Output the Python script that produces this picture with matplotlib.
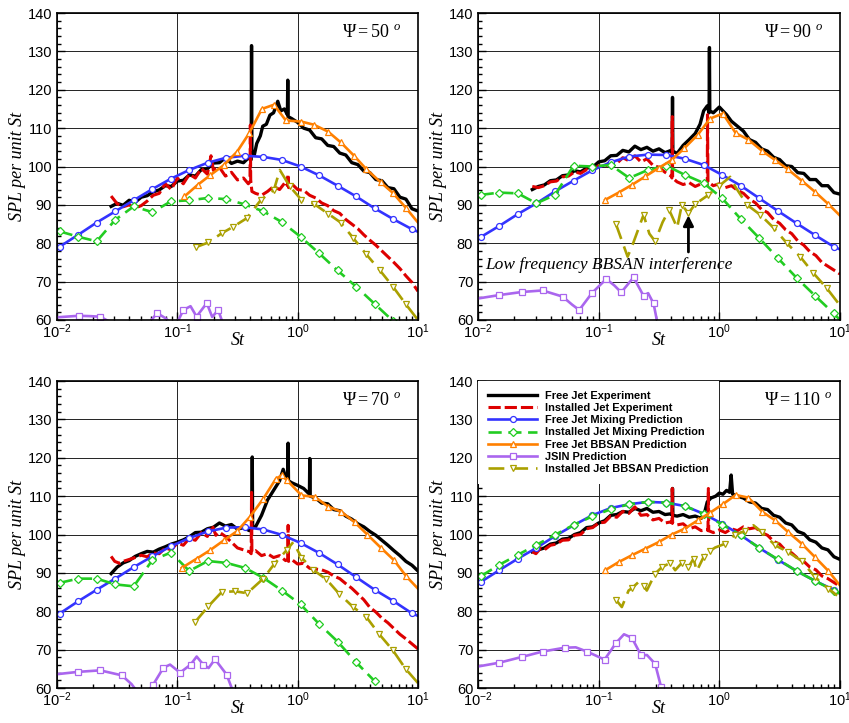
import numpy as np
import matplotlib.pyplot as plt
from matplotlib.ticker import FixedLocator, LogLocator, MultipleLocator, FuncFormatter, NullFormatter

plt.rcParams["font.family"] = "Liberation Sans"
plt.rcParams["mathtext.fontset"] = "custom"
plt.rcParams["mathtext.rm"] = "Liberation Serif"
plt.rcParams["mathtext.it"] = "Liberation Serif:italic"
plt.rcParams["mathtext.sf"] = "Liberation Sans"

# St values are kept as log10(St)
# mixing predictions share one St grid
mix_lst = [-1.978, -1.824, -1.670, -1.516, -1.362, -1.208, -1.054, -0.900, -0.746, -0.592,
           -0.438, -0.284, -0.130, 0.024, 0.178, 0.332, 0.486, 0.640, 0.794, 0.948, 1.0]

free_mix_50 = [79.1, 82.2, 85.4, 88.3, 91.2, 94.1, 96.8, 99.1, 101.0, 102.3, 102.8, 102.5, 101.7, 100.0, 97.7, 95.0, 92.2, 89.1, 86.3, 83.7, 83.0]
inst_mix_50 = [83.1, 81.7, 80.5, 86.1, 89.6, 88.1, 90.9, 91.2, 91.8, 91.5, 90.1, 88.3, 85.5, 81.7, 77.4, 72.9, 68.7, 64.2, 59.7, 55.2, 53.5]
free_mix_90 = [81.6, 84.5, 87.6, 90.4, 93.5, 96.3, 99.0, 101.1, 102.6, 103.1, 103.0, 102.0, 100.4, 97.8, 95.0, 91.7, 88.4, 85.2, 82.1, 79.1, 78.4]
inst_mix_90 = [92.6, 93.2, 93.0, 90.4, 92.6, 100.2, 100.0, 100.4, 97.0, 99.1, 100.2, 97.8, 95.7, 91.7, 86.3, 81.3, 76.1, 71.0, 66.3, 61.7, 60.0]
free_mix_70 = [79.4, 82.6, 85.6, 88.5, 91.5, 94.3, 96.9, 99.1, 100.8, 101.8, 101.9, 101.3, 99.9, 97.8, 95.2, 92.2, 88.9, 85.6, 82.7, 79.5, 78.8]
inst_mix_70 = [87.4, 88.5, 88.5, 87.0, 86.5, 93.3, 95.3, 90.5, 93.1, 92.6, 91.3, 88.7, 85.4, 81.8, 76.7, 72.1, 66.7, 61.8, 57.0, 52.0, 50.0]
free_mix_110 = [87.6, 90.7, 93.7, 96.5, 99.6, 102.4, 105.0, 106.9, 107.9, 108.5, 108.3, 107.4, 105.4, 102.8, 99.8, 96.5, 93.4, 90.5, 87.9, 85.6, 84.6]
inst_mix_110 = [89.1, 92.1, 94.7, 97.3, 99.9, 102.5, 104.7, 106.6, 107.9, 108.5, 108.3, 107.4, 105.4, 102.6, 99.8, 96.5, 93.5, 90.5, 87.9, 85.4, 84.6]

# measured spectra (log10 St, SPL)
free_exp_50 = [(-1.55, 89.6), (-1.50, 90.4), (-1.45, 89.9), (-1.40, 91.2), (-1.35, 90.7), (-1.30, 92.0), (-1.25, 92.4),
               (-1.20, 93.4), (-1.15, 93.9), (-1.10, 95.0), (-1.05, 94.8), (-1.00, 96.2), (-0.95, 96.4), (-0.90, 97.8),
               (-0.85, 97.5), (-0.80, 99.2), (-0.75, 99.4), (-0.70, 100.9), (-0.65, 101.0), (-0.60, 102.3), (-0.55, 100.8),
               (-0.50, 101.4), (-0.45, 101.0), (-0.41, 102.2), (-0.386, 101.8), (-0.383, 131.5), (-0.380, 103.5),
               (-0.36, 103.0), (-0.34, 106.0), (-0.31, 108.0), (-0.29, 110.5), (-0.26, 111.0), (-0.23, 113.4), (-0.20, 114.0),
               (-0.165, 117.0), (-0.14, 114.5), (-0.11, 115.0), (-0.085, 113.5), (-0.082, 122.5), (-0.079, 113.0),
               (-0.05, 112.5), (0.0, 111.5), (0.05, 110.0), (0.10, 109.5), (0.15, 107.5), (0.20, 107.2), (0.25, 105.5),
               (0.30, 105.2), (0.35, 103.5), (0.40, 103.0), (0.45, 101.0), (0.50, 100.5), (0.55, 98.8), (0.60, 98.4),
               (0.65, 96.6), (0.70, 96.3), (0.75, 94.5), (0.80, 94.2), (0.85, 92.0), (0.90, 91.5), (0.95, 89.0), (1.00, 88.4)]
inst_exp_50 = [(-1.55, 92.3), (-1.53, 91.5), (-1.50, 90.3), (-1.45, 89.5), (-1.40, 90.0), (-1.35, 89.2), (-1.30, 89.8),
               (-1.25, 91.0), (-1.20, 92.5), (-1.15, 93.0), (-1.10, 95.5), (-1.05, 94.0), (-1.00, 97.0), (-0.95, 95.5),
               (-0.90, 98.0), (-0.85, 97.0), (-0.80, 99.5), (-0.75, 98.0), (-0.72, 102.8), (-0.70, 99.0), (-0.65, 99.8),
               (-0.60, 97.5), (-0.55, 98.5), (-0.50, 96.5), (-0.45, 97.0), (-0.41, 95.5), (-0.396, 96.0), (-0.393, 110.8),
               (-0.390, 96.5), (-0.38, 93.5), (-0.35, 93.0), (-0.30, 92.5), (-0.25, 93.5), (-0.20, 94.8), (-0.15, 94.0),
               (-0.10, 96.0), (-0.085, 95.0), (-0.08, 98.0), (-0.075, 94.5), (-0.05, 95.5), (0.0, 94.0), (0.05, 93.8),
               (0.10, 92.5), (0.15, 91.8), (0.20, 90.5), (0.25, 89.8), (0.30, 88.5), (0.35, 87.8), (0.40, 86.2), (0.45, 85.0),
               (0.50, 83.8), (0.55, 82.2), (0.60, 80.8), (0.65, 79.5), (0.70, 78.0), (0.75, 76.5), (0.80, 75.0), (0.85, 73.4),
               (0.90, 71.5), (0.95, 69.8), (1.00, 67.5)]

free_exp_90 = [(-1.55, 94.0), (-1.50, 94.8), (-1.45, 95.2), (-1.40, 96.3), (-1.35, 96.5), (-1.30, 97.6), (-1.25, 97.8),
               (-1.20, 98.9), (-1.15, 98.6), (-1.10, 99.6), (-1.05, 99.8), (-1.00, 101.2), (-0.95, 101.5), (-0.90, 102.8),
               (-0.85, 102.9), (-0.80, 104.2), (-0.75, 103.8), (-0.70, 105.3), (-0.65, 104.4), (-0.60, 105.0), (-0.55, 104.0),
               (-0.50, 104.6), (-0.45, 103.6), (-0.40, 104.2), (-0.391, 103.5), (-0.388, 118.0), (-0.385, 104.0),
               (-0.35, 103.4), (-0.30, 105.5), (-0.25, 107.0), (-0.20, 108.6), (-0.16, 111.0), (-0.13, 114.5), (-0.10, 115.8),
               (-0.085, 114.0), (-0.082, 131.0), (-0.079, 114.5), (-0.05, 114.0), (0.0, 115.5), (0.03, 114.5), (0.06, 113.5),
               (0.10, 111.8), (0.15, 110.5), (0.20, 109.2), (0.25, 107.0), (0.30, 106.3), (0.35, 104.6), (0.40, 104.0),
               (0.45, 102.4), (0.50, 101.8), (0.55, 100.2), (0.60, 100.0), (0.65, 98.4), (0.70, 98.2), (0.75, 96.6),
               (0.80, 96.6), (0.85, 95.0), (0.90, 95.0), (0.95, 93.2), (1.00, 92.8)]
inst_exp_90 = [(-1.55, 94.8), (-1.50, 94.5), (-1.45, 95.0), (-1.40, 96.0), (-1.35, 96.2), (-1.30, 97.3), (-1.25, 97.5),
               (-1.20, 98.6), (-1.15, 98.2), (-1.10, 99.2), (-1.05, 99.0), (-1.00, 100.2), (-0.95, 99.8), (-0.90, 101.5),
               (-0.85, 100.8), (-0.80, 102.3), (-0.75, 101.5), (-0.70, 102.8), (-0.65, 101.2), (-0.60, 102.0), (-0.55, 100.3),
               (-0.50, 99.8), (-0.45, 98.5), (-0.40, 97.5), (-0.393, 97.0), (-0.390, 113.0), (-0.387, 97.0), (-0.35, 96.0),
               (-0.30, 95.3), (-0.25, 95.8), (-0.20, 94.8), (-0.15, 95.5), (-0.10, 95.0), (-0.098, 113.5), (-0.094, 96.0),
               (-0.05, 95.0), (0.0, 95.5), (0.05, 94.5), (0.10, 95.0), (0.15, 93.8), (0.20, 93.0), (0.25, 91.5), (0.30, 90.5),
               (0.35, 88.8), (0.40, 88.0), (0.45, 86.2), (0.50, 85.2), (0.55, 83.5), (0.60, 82.5), (0.65, 80.6), (0.70, 79.5),
               (0.75, 77.8), (0.80, 76.8), (0.85, 75.0), (0.90, 74.0), (0.95, 73.0), (1.00, 72.0)]

free_exp_70 = [(-1.55, 89.8), (-1.50, 91.5), (-1.45, 92.6), (-1.40, 93.2), (-1.35, 94.3), (-1.30, 95.0), (-1.25, 95.6),
               (-1.20, 95.4), (-1.15, 96.2), (-1.10, 96.8), (-1.05, 97.5), (-1.00, 98.0), (-0.95, 98.6), (-0.90, 99.4),
               (-0.85, 100.5), (-0.80, 100.6), (-0.75, 101.5), (-0.70, 101.9), (-0.65, 103.0), (-0.60, 102.2), (-0.55, 102.6),
               (-0.50, 101.4), (-0.45, 101.8), (-0.40, 101.0), (-0.380, 101.5), (-0.377, 120.2), (-0.374, 102.0),
               (-0.35, 102.0), (-0.30, 105.0), (-0.25, 109.0), (-0.20, 111.5), (-0.15, 114.0), (-0.12, 117.0), (-0.10, 115.0),
               (-0.082, 115.5), (-0.079, 123.8), (-0.076, 114.0), (-0.05, 113.5), (0.0, 112.8), (0.05, 112.0), (0.098, 110.5),
               (0.101, 119.8), (0.104, 110.0), (0.15, 109.5), (0.20, 108.2), (0.25, 108.0), (0.30, 106.5), (0.35, 106.2),
               (0.40, 104.8), (0.45, 104.0), (0.50, 102.8), (0.55, 102.0), (0.60, 100.8), (0.65, 99.8), (0.70, 98.5),
               (0.75, 97.2), (0.80, 95.8), (0.85, 94.5), (0.90, 93.0), (0.95, 92.0), (1.00, 90.5)]
inst_exp_70 = [(-1.55, 94.3), (-1.52, 93.0), (-1.48, 92.5), (-1.45, 93.0), (-1.40, 93.5), (-1.35, 94.0), (-1.30, 94.6),
               (-1.25, 94.2), (-1.20, 95.2), (-1.15, 95.0), (-1.10, 96.5), (-1.05, 96.0), (-1.00, 97.8), (-0.95, 97.2),
               (-0.90, 99.0), (-0.85, 98.5), (-0.80, 100.5), (-0.75, 99.5), (-0.71, 102.4), (-0.68, 99.8), (-0.65, 100.6),
               (-0.60, 99.5), (-0.55, 98.0), (-0.50, 96.5), (-0.45, 96.0), (-0.40, 95.5), (-0.386, 95.0), (-0.383, 111.0),
               (-0.380, 95.5), (-0.35, 95.8), (-0.30, 94.5), (-0.25, 95.0), (-0.20, 94.0), (-0.15, 94.5), (-0.10, 93.2),
               (-0.082, 93.5), (-0.079, 102.4), (-0.076, 93.0), (-0.05, 93.5), (0.0, 92.3), (0.05, 92.5), (0.10, 91.2),
               (0.15, 91.0), (0.20, 90.8), (0.25, 90.2), (0.30, 89.2), (0.35, 88.5), (0.40, 87.2), (0.45, 86.0), (0.50, 84.5),
               (0.55, 83.0), (0.60, 81.0), (0.65, 79.8), (0.70, 78.2), (0.75, 77.0), (0.80, 75.5), (0.85, 74.0), (0.90, 72.8),
               (0.95, 71.5), (1.00, 70.2)]

free_exp_110 = [(-1.55, 95.5), (-1.50, 96.0), (-1.45, 96.5), (-1.40, 97.5), (-1.35, 97.8), (-1.30, 98.8), (-1.25, 99.0),
                (-1.20, 100.0), (-1.15, 100.5), (-1.10, 101.8), (-1.05, 102.0), (-1.00, 103.0), (-0.95, 103.6), (-0.90, 105.0),
                (-0.85, 105.2), (-0.80, 106.0), (-0.75, 105.8), (-0.70, 106.8), (-0.65, 106.2), (-0.60, 106.8), (-0.55, 105.8),
                (-0.50, 106.0), (-0.45, 105.2), (-0.40, 105.4), (-0.391, 105.0), (-0.388, 112.0), (-0.385, 105.0),
                (-0.35, 104.8), (-0.30, 105.2), (-0.25, 104.5), (-0.20, 104.8), (-0.15, 104.2), (-0.12, 106.0), (-0.10, 108.5),
                (-0.07, 109.5), (-0.03, 110.0), (0.0, 110.8), (0.03, 110.5), (0.06, 111.5), (0.085, 111.0), (0.098, 115.5),
                (0.11, 110.5), (0.15, 110.0), (0.20, 109.5), (0.25, 108.5), (0.30, 108.2), (0.35, 106.8), (0.40, 106.5),
                (0.45, 105.0), (0.50, 104.5), (0.55, 103.0), (0.60, 102.5), (0.65, 100.8), (0.70, 100.2), (0.75, 98.6),
                (0.80, 98.0), (0.85, 96.5), (0.90, 96.0), (0.95, 94.2), (1.00, 93.5)]
inst_exp_110 = [(-1.55, 95.5), (-1.52, 95.0), (-1.48, 96.5), (-1.45, 96.0), (-1.40, 97.2), (-1.35, 97.5), (-1.30, 98.5),
                (-1.25, 98.6), (-1.20, 99.8), (-1.15, 100.0), (-1.10, 101.5), (-1.05, 101.8), (-1.00, 103.0), (-0.95, 103.2),
                (-0.90, 104.8), (-0.85, 104.5), (-0.80, 106.0), (-0.75, 105.5), (-0.70, 107.2), (-0.65, 105.0), (-0.60, 105.2),
                (-0.55, 103.8), (-0.50, 104.2), (-0.45, 103.0), (-0.40, 103.3), (-0.393, 103.0), (-0.390, 112.0),
                (-0.387, 103.0), (-0.35, 102.5), (-0.30, 102.8), (-0.25, 101.5), (-0.20, 102.0), (-0.15, 101.0), (-0.10, 101.3),
                (-0.094, 101.0), (-0.091, 112.0), (-0.088, 101.0), (-0.05, 100.5), (0.0, 101.2), (0.05, 100.5), (0.10, 101.5),
                (0.15, 101.0), (0.20, 102.0), (0.25, 101.5), (0.30, 101.8), (0.35, 100.5), (0.40, 99.8), (0.45, 98.2),
                (0.50, 97.5), (0.55, 95.8), (0.60, 95.2), (0.65, 93.8), (0.70, 93.0), (0.75, 91.5), (0.80, 90.8), (0.85, 89.2),
                (0.90, 88.5), (0.95, 87.5), (1.00, 86.5)]

# BBSAN predictions
free_bb_50 = [(-0.941, 92.2), (-0.831, 95.2), (-0.728, 97.7), (-0.612, 100.4), (-0.502, 103.9), (-0.402, 108.7),
              (-0.297, 115.0), (-0.197, 116.1), (-0.098, 112.0), (0.032, 111.7), (0.134, 110.9), (0.253, 109.1),
              (0.358, 106.3), (0.469, 102.8), (0.571, 99.3), (0.690, 95.9), (0.792, 93.1), (0.903, 89.1), (1.0, 85.4)]
free_bb_90 = [(-0.946, 91.3), (-0.835, 93.2), (-0.725, 95.2), (-0.614, 97.4), (-0.504, 99.6), (-0.394, 101.7),
              (-0.289, 104.8), (-0.178, 108.3), (-0.076, 112.5), (0.029, 113.8), (0.136, 108.7), (0.241, 107.0),
              (0.357, 104.0), (0.462, 101.7), (0.567, 99.3), (0.683, 96.3), (0.793, 93.4), (0.904, 90.2), (1.0, 87.2)]
free_bb_70 = [(-0.963, 91.3), (-0.839, 93.7), (-0.728, 95.9), (-0.612, 98.5), (-0.502, 100.9), (-0.397, 104.6),
              (-0.286, 109.3), (-0.181, 114.5), (-0.134, 115.4), (-0.087, 114.1), (0.032, 110.2), (0.143, 109.8),
              (0.253, 107.3), (0.364, 105.9), (0.474, 103.2), (0.579, 100.0), (0.690, 96.6), (0.801, 93.3),
              (0.903, 89.1), (1.0, 85.9)]
free_bb_110 = [(-0.946, 90.7), (-0.835, 92.8), (-0.725, 94.6), (-0.614, 96.3), (-0.504, 98.0), (-0.394, 100.0),
               (-0.289, 101.5), (-0.178, 103.7), (-0.076, 105.7), (0.029, 107.9), (0.136, 110.3), (0.241, 109.6),
               (0.357, 105.9), (0.462, 103.7), (0.572, 100.6), (0.683, 97.6), (0.793, 94.1), (0.904, 90.5), (1.0, 86.7)]

inst_bb_50 = [(-0.844, 79.0), (-0.742, 80.2), (-0.631, 82.6), (-0.535, 84.3), (-0.424, 86.5), (-0.305, 91.3),
              (-0.197, 93.9), (-0.148, 99.1), (-0.065, 94.8), (0.032, 91.3), (0.134, 90.3), (0.253, 87.7), (0.358, 85.4),
              (0.461, 81.4), (0.571, 77.1), (0.682, 73.0), (0.792, 68.7), (0.897, 64.2), (1.0, 60.0)]
inst_bb_50_marks = [0, 1, 2, 3, 4, 5, 6, 8, 9, 10, 11, 12, 13, 14, 15, 16, 17]
inst_bb_90 = [(-0.857, 85.0), (-0.80, 80.0), (-0.76, 76.5), (-0.72, 79.5), (-0.628, 87.4), (-0.58, 82.5), (-0.532, 80.5),
              (-0.47, 85.5), (-0.416, 88.7), (-0.37, 85.5), (-0.35, 84.0), (-0.311, 90.0), (-0.256, 87.8), (-0.20, 90.2),
              (-0.09, 92.6), (0.0, 95.0), (0.09, 97.3), (0.131, 94.8), (0.23, 90.0), (0.34, 87.4), (0.45, 84.0),
              (0.56, 80.0), (0.67, 76.5), (0.78, 72.2), (0.89, 68.3), (1.0, 63.8)]
inst_bb_90_marks = [0, 4, 6, 8, 11, 12, 13, 14, 15, 18, 19, 20, 21, 22, 23, 24]
inst_bb_70 = [(-0.852, 77.2), (-0.742, 81.3), (-0.631, 85.0), (-0.521, 85.2), (-0.419, 84.7), (-0.286, 88.5),
              (-0.197, 92.2), (-0.092, 95.9), (-0.037, 98.0), (0.032, 94.0), (0.129, 90.8), (0.239, 88.3), (0.344, 84.6),
              (0.461, 81.1), (0.571, 78.5), (0.676, 74.1), (0.792, 69.8), (0.897, 65.0), (1.0, 61.3)]
inst_bb_70_marks = [0, 1, 2, 3, 4, 5, 6, 7, 9, 10, 11, 12, 13, 14, 15, 16, 17]
inst_bb_110 = [(-0.857, 83.0), (-0.808, 81.1), (-0.752, 85.4), (-0.725, 86.0), (-0.670, 87.6), (-0.628, 86.7),
               (-0.601, 85.4), (-0.532, 89.8), (-0.476, 91.5), (-0.407, 92.6), (-0.366, 90.7), (-0.311, 92.6),
               (-0.256, 91.5), (-0.214, 93.7), (-0.187, 90.5), (-0.131, 94.1), (-0.076, 95.7), (-0.035, 96.6),
               (0.048, 97.6), (0.131, 100.0), (0.214, 100.9), (0.283, 102.4), (0.352, 100.6), (0.462, 97.2),
               (0.572, 95.4), (0.683, 93.1), (0.793, 88.9), (0.904, 85.9), (1.0, 83.5)]
inst_bb_110_marks = [0, 3, 5, 7, 8, 9, 11, 12, 13, 15, 16, 18, 19, 20, 22, 23, 24, 25, 26, 27]

# JSIN predictions
jsin_50 = [(-2.0, 60.7), (-1.82, 61.1), (-1.72, 61.0), (-1.64, 60.85), (-1.56, 59.5), (-1.45, 57.5), (-1.30, 57.5),
           (-1.22, 59.8), (-1.168, 61.8), (-1.10, 60.5), (-1.04, 58.8), (-0.99, 60.0), (-0.95, 62.6), (-0.89, 63.6),
           (-0.84, 60.9), (-0.755, 64.4), (-0.71, 60.8), (-0.66, 62.6), (-0.62, 59.0)]
jsin_50_marks = [1, 3, 8, 12, 14, 15, 17]
jsin_90 = [(-2.0, 65.6), (-1.823, 66.5), (-1.636, 67.3), (-1.465, 67.7), (-1.299, 66.1), (-1.22, 64.0), (-1.161, 62.6),
           (-1.056, 67.0), (-0.937, 70.7), (-0.87, 69.0), (-0.813, 67.2), (-0.711, 71.1), (-0.628, 66.3), (-0.59, 67.0),
           (-0.545, 64.3), (-0.518, 60.0), (-0.50, 57.0)]
jsin_90_marks = [1, 2, 3, 4, 6, 7, 8, 10, 11, 12, 14]
jsin_70 = [(-2.0, 63.6), (-1.826, 64.2), (-1.641, 64.6), (-1.461, 63.3), (-1.38, 61.0), (-1.32, 58.5), (-1.26, 58.5),
           (-1.204, 60.7), (-1.115, 65.3), (-1.06, 66.1), (-0.977, 64.0), (-0.889, 66.1), (-0.839, 68.2), (-0.784, 66.1),
           (-0.74, 65.2), (-0.687, 67.5), (-0.59, 63.5), (-0.548, 60.0), (-0.53, 58.0)]
jsin_70_marks = [1, 2, 3, 7, 8, 10, 11, 13, 15, 16]
jsin_110 = [(-2.0, 65.6), (-1.823, 66.6), (-1.636, 68.1), (-1.465, 69.5), (-1.282, 70.5), (-1.19, 70.6), (-1.097, 69.5),
            (-0.951, 67.4), (-0.857, 71.7), (-0.79, 74.0), (-0.725, 73.1), (-0.648, 68.5), (-0.60, 68.6), (-0.532, 66.3),
            (-0.482, 60.2), (-0.47, 58.0)]
jsin_110_marks = [1, 2, 3, 4, 6, 7, 8, 10, 11, 13, 14]

C_RED = "#dd0000"
C_BLUE = "#3333ff"
C_GREEN = "#22cc22"
C_ORANGE = "#ff8000"
C_PURPLE = "#aa66ee"
C_OLIVE = "#aaa000"

serif_it = dict(family="Liberation Serif", style="italic")


def xy(pairs):
    a = np.array(pairs)
    return 10 ** a[:, 0], a[:, 1]


def panel(ax, psi, free_exp, inst_exp, free_mix, inst_mix, free_bb, jsin, jsin_marks, inst_bb, inst_bb_marks):
    mk = dict(mfc="white", ms=4.3, mew=0.9)
    x, y = xy(free_exp)
    ax.plot(x, y, color="black", lw=2.4, label="Free Jet Experiment")
    x, y = xy(inst_exp)
    ax.plot(x, y, color=C_RED, lw=2.2, dashes=(4, 1.3), label="Installed Jet Experiment")
    st_mix = 10 ** np.array(mix_lst)
    ax.plot(st_mix, free_mix, color=C_BLUE, lw=1.9, marker="o", mec=C_BLUE,
            markevery=slice(0, 20), label="Free Jet Mixing Prediction", **mk)
    ax.plot(st_mix, inst_mix, color=C_GREEN, lw=1.9, dashes=(5, 2.5), marker="D", mec=C_GREEN,
            markevery=slice(0, 20), label="Installed Jet Mixing Prediction", **mk)
    x, y = xy(free_bb)
    ax.plot(x, y, color=C_ORANGE, lw=1.9, marker="^", mec=C_ORANGE,
            markevery=slice(0, len(x) - 1), label="Free Jet BBSAN Prediction", **mk)
    x, y = xy(jsin)
    ax.plot(x, y, color=C_PURPLE, lw=1.9, marker="s", mec=C_PURPLE,
            markevery=jsin_marks, label="JSIN Prediction", **mk)
    x, y = xy(inst_bb)
    ax.plot(x, y, color=C_OLIVE, lw=1.9, dashes=(6, 3), marker="v", mec=C_OLIVE,
            markevery=inst_bb_marks, label="Installed Jet BBSAN Prediction", **mk)

    ax.set_xscale("log")
    ax.set_xlim(1e-2, 10)
    ax.set_ylim(60, 140)
    ax.xaxis.set_major_locator(FixedLocator([1e-2, 1e-1, 1, 10]))
    ax.xaxis.set_minor_locator(LogLocator(base=10, subs=np.arange(2, 10)))
    ax.xaxis.set_major_formatter(FuncFormatter(lambda v, p: r"$\mathsf{10^{%d}}$" % round(np.log10(v))))
    ax.xaxis.set_minor_formatter(NullFormatter())
    ax.yaxis.set_major_locator(MultipleLocator(10))
    ax.yaxis.set_minor_locator(MultipleLocator(2))
    ax.tick_params(which="both", direction="in", top=False, right=False, labelsize=10.5, width=1)
    ax.tick_params(which="major", length=6)
    ax.tick_params(which="minor", length=3)
    ax.tick_params(axis="x", pad=2)
    ax.grid(True, which="major", color="#222222", lw=0.7)
    for s in ax.spines.values():
        s.set_linewidth(1.2)
    ax.set_xlabel("St", fontsize=13, **serif_it)
    ax.set_ylabel("SPL per unit St", fontsize=13, **serif_it)
    ax.xaxis.set_label_coords(0.5, -0.04)
    ax.yaxis.set_label_coords(-0.085, 0.5)
    ax.text(0.79, 0.935, r"$\Psi = \mathit{%d}\ ^{\mathit{o}}$" % psi, transform=ax.transAxes,
            fontsize=13, ha="left", va="center")


fig = plt.figure(figsize=(8.49, 7.23), dpi=100)
ax1 = fig.add_axes([0.0671, 0.5574, 0.4252, 0.4246])
ax2 = fig.add_axes([0.5630, 0.5574, 0.4264, 0.4246])
ax3 = fig.add_axes([0.0671, 0.0484, 0.4252, 0.4246])
ax4 = fig.add_axes([0.5630, 0.0484, 0.4264, 0.4246])

panel(ax1, 50, free_exp_50, inst_exp_50, free_mix_50, inst_mix_50, free_bb_50, jsin_50, jsin_50_marks, inst_bb_50, inst_bb_50_marks)
panel(ax2, 90, free_exp_90, inst_exp_90, free_mix_90, inst_mix_90, free_bb_90, jsin_90, jsin_90_marks, inst_bb_90, inst_bb_90_marks)
panel(ax3, 70, free_exp_70, inst_exp_70, free_mix_70, inst_mix_70, free_bb_70, jsin_70, jsin_70_marks, inst_bb_70, inst_bb_70_marks)
panel(ax4, 110, free_exp_110, inst_exp_110, free_mix_110, inst_mix_110, free_bb_110, jsin_110, jsin_110_marks, inst_bb_110, inst_bb_110_marks)

# annotation on the 90 deg panel
ax2.text(10 ** -1.94, 74.3, "Low frequency BBSAN interference", fontsize=12.5, va="center", ha="left", **serif_it)
ax2.annotate("", xy=(10 ** -0.256, 88.0), xytext=(10 ** -0.256, 77.0),
             arrowprops=dict(arrowstyle="-|>", color="black", lw=2.0, mutation_scale=15))

leg = ax4.legend(loc="upper left", borderaxespad=0, handlelength=4.5, handletextpad=0.75,
                 labelspacing=0.2, borderpad=0.9, fancybox=False, framealpha=1, edgecolor="none",
                 prop=dict(family="Liberation Sans", weight="bold", size=7.9))

fig.savefig("out.png", dpi=100)
